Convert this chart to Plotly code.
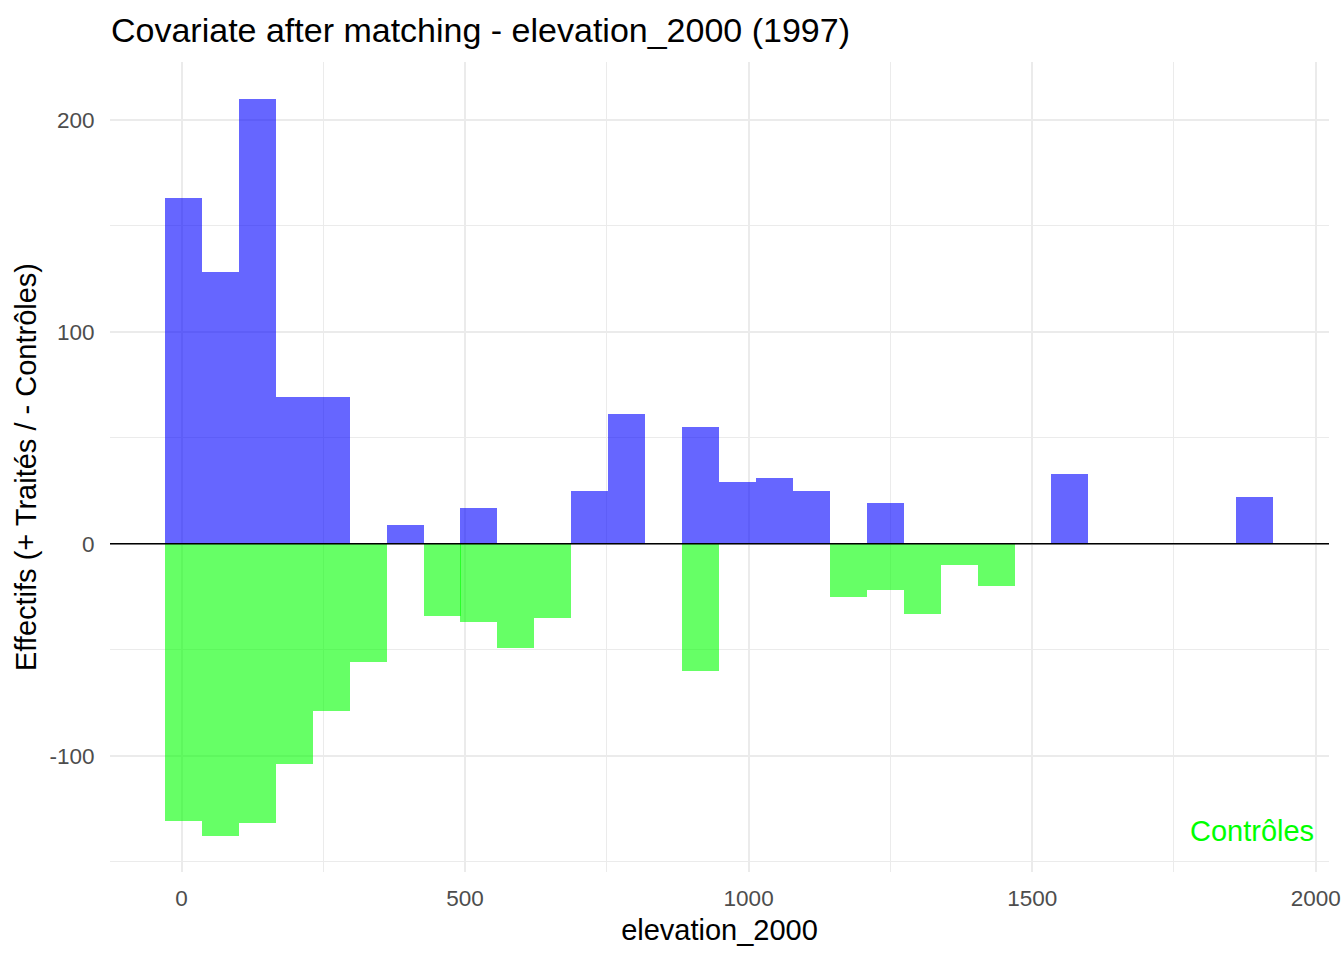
import plotly.graph_objects as go

# Bin centres of elevation_2000 (30 bins)
bin_centers = [3.5, 68.6, 133.8, 198.9, 264.0, 329.2, 394.3, 459.4, 524.5, 589.7,
               654.8, 719.9, 785.1, 850.2, 915.3, 980.5, 1045.6, 1110.7, 1175.8, 1241.0,
               1306.1, 1371.2, 1436.4, 1501.5, 1566.6, 1631.8, 1696.9, 1762.0, 1827.1, 1892.3]
bin_width = 65.13

treated_counts = [163, 128, 210, 69, 69, 0, 9, 0, 17, 0,
                  0, 25, 61, 0, 55, 29, 31, 25, 0, 19,
                  0, 0, 0, 0, 33, 0, 0, 0, 0, 22]
control_counts = [131, 138, 132, 104, 79, 56, 0, 34, 37, 49,
                  35, 0, 0, 0, 60, 0, 0, 0, 25, 22,
                  33, 10, 20, 0, 0, 0, 0, 0, 0, 0]

x_ticks = [0, 500, 1000, 1500, 2000]
y_ticks = [-100, 0, 100, 200]

title_text = "Covariate after matching - elevation_2000 (1997)"
x_title = "elevation_2000"
y_title = "Effectifs (+ Traités / - Contrôles)"
control_label = "Contrôles"

FONT = "Liberation Sans, Arial, sans-serif"
GRID = "#EBEBEB"

W, H = 1344, 960

fig = go.Figure()
fig.add_trace(go.Bar(
    x=bin_centers, y=treated_counts, width=bin_width,
    marker=dict(color="rgba(0,0,255,0.6)", line=dict(width=0)),
    name="Traités", showlegend=False,
))
fig.add_trace(go.Bar(
    x=bin_centers, y=[-v for v in control_counts], width=bin_width,
    marker=dict(color="rgba(0,255,0,0.6)", line=dict(width=0)),
    name="Contrôles", showlegend=False,
))

fig.add_hline(y=0, line=dict(color="black", width=1.6), layer="above")

fig.add_annotation(
    x=2000, y=-135.6, xref="x", yref="y", text=control_label,
    showarrow=False, xanchor="right", yanchor="middle",
    font=dict(family=FONT, size=29, color="#00FF00"),
)

fig.update_layout(
    width=W, height=H,
    margin=dict(l=110, r=15, t=62, b=88),
    paper_bgcolor="white", plot_bgcolor="white",
    barmode="overlay", bargap=0,
    font=dict(family=FONT, color="black"),
    title=dict(text=title_text, x=111 / W, xanchor="left",
               y=1 - 30 / H, yanchor="middle",
               font=dict(family=FONT, size=34, color="black")),
)

fig.update_xaxes(
    range=[-126.1, 2023.4], tickvals=x_ticks, ticktext=[str(v) for v in x_ticks],
    automargin=False,
    showgrid=True, gridcolor=GRID, gridwidth=2, zeroline=False, showline=False,
    ticks="outside", ticklen=6, tickcolor="rgba(0,0,0,0)",
    tickfont=dict(family=FONT, size=22.5, color="#4D4D4D"),
    minor=dict(tickvals=[250, 750, 1250, 1750], showgrid=True, gridcolor=GRID, gridwidth=1),
    title=dict(text=x_title, standoff=9, font=dict(family=FONT, size=29, color="black")),
)
fig.update_yaxes(
    range=[-154.9, 227.3], tickvals=y_ticks, ticktext=[str(v) if v >= 0 else "-" + str(-v) for v in y_ticks],
    automargin=False,
    showgrid=True, gridcolor=GRID, gridwidth=2, zeroline=False, showline=False,
    ticks="outside", ticklen=10, tickcolor="rgba(0,0,0,0)",
    tickfont=dict(family=FONT, size=22.5, color="#4D4D4D"),
    minor=dict(tickvals=[-150, -50, 50, 150], showgrid=True, gridcolor=GRID, gridwidth=1),
    title=dict(text=y_title, standoff=4, font=dict(family=FONT, size=29, color="black")),
)

# remove the default page margin so the 1344x960 figure fills the window exactly
fig.write_html(
    "out.html",
    config={"displayModeBar": False},
    post_script="document.body.style.margin='0';document.body.style.overflow='hidden';",
)
